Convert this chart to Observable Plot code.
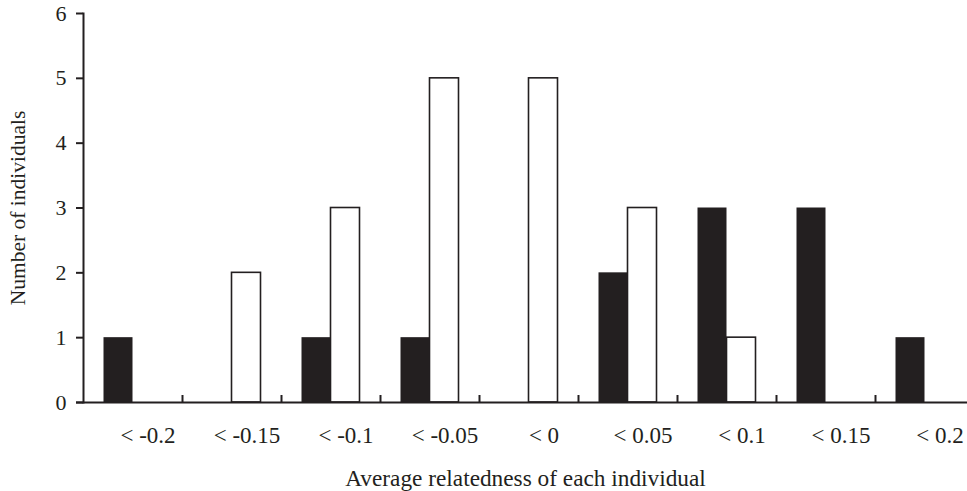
<!DOCTYPE html>
<html>
<head>
<meta charset="utf-8">
<script src="https://cdn.jsdelivr.net/npm/d3@7"></script>
<script src="https://cdn.jsdelivr.net/npm/@observablehq/plot@0.6"></script>
<style>
  html, body { margin: 0; padding: 0; background: white; overflow: hidden; }
</style>
</head>
<body>
<div id="chart"></div>
<script>
const categories = ["< -0.2", "< -0.15", "< -0.1", "< -0.05", "< 0", "< 0.05", "< 0.1", "< 0.15", "< 0.2"];
const blackCounts = [1, 0, 1, 1, 0, 2, 3, 3, 1];
const whiteCounts = [0, 2, 3, 5, 5, 3, 1, 0, 0];
const yTicks = [0, 1, 2, 3, 4, 5, 6];
const xTitle = "Average relatedness of each individual";
const yTitle = "Number of individuals";

const blackData = categories.map((c, i) => ({category: c, count: blackCounts[i]})).filter(d => d.count > 0);
const whiteData = categories.map((c, i) => ({category: c, count: whiteCounts[i]})).filter(d => d.count > 0);

const ink = "#231f20";

const chart = Plot.plot({
  width: 967,
  height: 491,
  marginTop: 13,
  marginBottom: 89,
  marginLeft: 83,
  marginRight: 0,
  style: {fontFamily: "'Liberation Serif', 'Times New Roman', serif", fontSize: "22px", color: ink, background: "white"},
  x: {domain: categories, range: [83, 974], padding: 0, axis: null},
  y: {domain: [0, 6], axis: null},
  marks: [
    Plot.barY(whiteData, {x: "category", y: "count", fill: "white", stroke: ink, strokeWidth: 1.6, insetLeft: 49.5, insetRight: 20.5}),
    Plot.barY(blackData, {x: "category", y: "count", fill: ink, insetLeft: 20.5, insetRight: 49.5}),
    Plot.frame({anchor: "left", stroke: ink, strokeWidth: 2}),
    Plot.ruleY([0], {stroke: ink, strokeWidth: 2, insetLeft: -7}),
    Plot.axisY({ticks: yTicks, tickFormat: d => String(d), tickSize: 7, tickPadding: 10, stroke: ink, strokeWidth: 2, fill: ink, fontSize: 22, label: null}),
    Plot.axisX({anchor: "bottom", tickSize: -7, tickFormat: () => "", dx: 49.5, stroke: ink, strokeWidth: 2, label: null}),
    Plot.axisX({anchor: "bottom", tickSize: 0, tickPadding: 24, dx: 15, fill: ink, fontSize: 23, label: null}),
    Plot.text([xTitle], {frameAnchor: "bottom", dy: 76, lineAnchor: "middle", textAnchor: "middle", fontSize: 23.3, fill: ink}),
    Plot.text([yTitle], {frameAnchor: "left", dx: -65, rotate: -90, lineAnchor: "middle", textAnchor: "middle", fontSize: 21.5, fill: ink})
  ]
});
document.getElementById("chart").appendChild(chart);
</script>
</body>
</html>
